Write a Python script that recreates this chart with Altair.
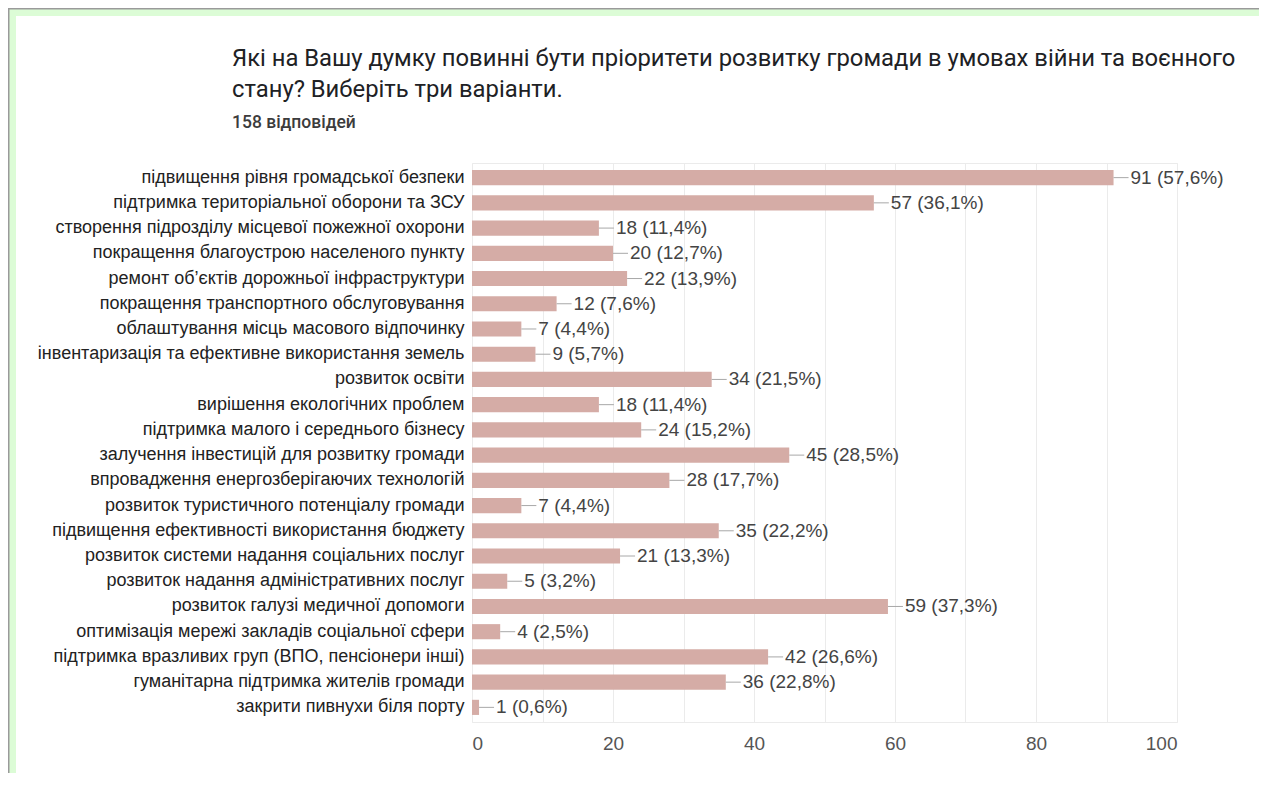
import altair as alt
import pandas as pd

categories = [
    "підвищення рівня громадської безпеки",
    "підтримка територіальної оборони та ЗСУ",
    "створення підрозділу місцевої пожежної охорони",
    "покращення благоустрою населеного пункту",
    "ремонт об’єктів дорожньої інфраструктури",
    "покращення транспортного обслуговування",
    "облаштування місць масового відпочинку",
    "інвентаризація та ефективне використання земель",
    "розвиток освіти",
    "вирішення екологічних проблем",
    "підтримка малого і середнього бізнесу",
    "залучення інвестицій для розвитку громади",
    "впровадження енергозберігаючих технологій",
    "розвиток туристичного потенціалу громади",
    "підвищення ефективності використання бюджету",
    "розвиток системи надання соціальних послуг",
    "розвиток надання адміністративних послуг",
    "розвиток галузі медичної допомоги",
    "оптимізація мережі закладів соціальної сфери",
    "підтримка вразливих груп (ВПО, пенсіонери інші)",
    "гуманітарна підтримка жителів громади",
    "закрити пивнухи біля порту",
]
counts = [91, 57, 18, 20, 22, 12, 7, 9, 34, 18, 24, 45, 28, 7, 35, 21, 5, 59, 4, 42, 36, 1]
percents = ["57,6", "36,1", "11,4", "12,7", "13,9", "7,6", "4,4", "5,7", "21,5", "11,4",
            "15,2", "28,5", "17,7", "4,4", "22,2", "13,3", "3,2", "37,3", "2,5", "26,6",
            "22,8", "0,6"]
x_ticks = [0, 10, 20, 30, 40, 50, 60, 70, 80, 90, 100]

title_lines = ["Які на Вашу думку повинні бути пріоритети розвитку громади в умовах війни та воєнного",
               "стану? Виберіть три варіанти."]
subtitle = "158 відповідей"

df = pd.DataFrame({"cat": categories, "n": counts, "pct": percents})
df["label"] = [f"{n} ({p}%)" for n, p in zip(counts, percents)]

W, H = 705, 559
PL, PT, PR, PB = 464, 155, 82, 51
GREEN = "#dcfcd6"
GRAY = "#9a9a9a"

deco = alt.Data(values=[{"k": 1}])

def box(x, x2, y, y2, color):
    return alt.Chart(deco).mark_rect(color=color).encode(
        x=alt.value(x), x2=alt.value(x2), y=alt.value(y), y2=alt.value(y2))

def label(text, x, y, size, weight, color):
    return alt.Chart(deco).mark_text(
        text=text, align="left", baseline="alphabetic", font="Roboto",
        fontSize=size, fontWeight=weight, color=color).encode(
        x=alt.value(x), y=alt.value(y))

green_top = box(-PL, W + PR, -PT, -PT + 8, GREEN)
green_left = box(-PL, -PL + 8, -PT, H + PB, GREEN)
gray_top = box(-PL, W + PR, -PT, -PT + 1.5, GRAY)
gray_left = box(-PL, -PL + 1.5, -PT, H + PB, GRAY)

t1 = label(title_lines[0], -240, -97.5, 23.8, "normal", "#202124")
t2 = label(title_lines[1], -240, -66.5, 23.8, "normal", "#202124")
t3 = label(subtitle, -240, -35, 17.5, 500, "#3c3c3c")

y_enc = alt.Y("cat:N", sort=categories, title=None,
              scale=alt.Scale(paddingInner=0.4, paddingOuter=0.28),
              axis=alt.Axis(labelFont="Liberation Sans", labelFontSize=18, labelColor="#222222",
                            labelPadding=8, ticks=False, domain=False, grid=False,
                            labelLimit=500))
x_scale = alt.Scale(domain=[0, 100], nice=False)

bars = alt.Chart(df).mark_bar(color="#d5aca6").encode(
    x=alt.X("n:Q", scale=x_scale, title=None,
            axis=alt.Axis(values=x_ticks, labelExpr="datum.value % 20 == 0 ? datum.label : ''",
                          labelFont="Liberation Sans", labelFontSize=19, labelColor="#555555",
                          labelPadding=12, ticks=False, domain=False, grid=True,
                          gridColor="#ebebeb", gridWidth=1)),
    y=y_enc,
)

leaders = alt.Chart(df).mark_rule(color="#a8a8a8", strokeWidth=1, x2Offset=15).encode(
    x=alt.X("n:Q", scale=x_scale),
    x2="n:Q",
    y=alt.Y("cat:N", sort=categories, bandPosition=0.5),
)

texts = alt.Chart(df).mark_text(align="left", baseline="middle", dx=17,
                                font="Liberation Sans", fontSize=19, color="#444444").encode(
    x=alt.X("n:Q", scale=x_scale),
    y=alt.Y("cat:N", sort=categories),
    text="label:N",
)

chart = alt.layer(green_top, green_left, gray_top, gray_left, t1, t2, t3,
                  bars, leaders, texts).properties(
    width=W, height=H,
    autosize=alt.AutoSizeParams(type="none"),
    padding={"left": PL, "top": PT, "right": PR, "bottom": PB},
    background="#ffffff",
).configure_view(stroke="#ebebeb")

chart.save("out.html", embed_options={"renderer": "svg", "actions": False})
